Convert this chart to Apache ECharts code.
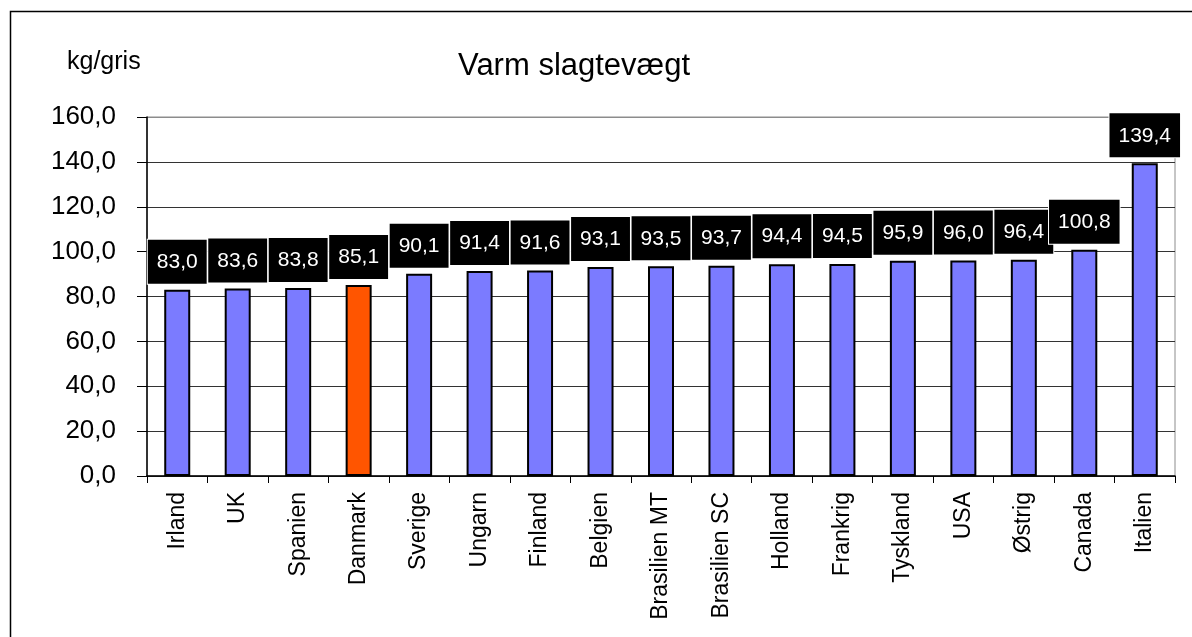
<!DOCTYPE html>
<html>
<head>
<meta charset="utf-8">
<script src="https://cdn.jsdelivr.net/npm/echarts@6/dist/echarts.min.js"></script>
<style>
  html, body { margin: 0; padding: 0; background: #fff; }
  #chart { width: 1192px; height: 637px; }
</style>
</head>
<body>
<div id="chart"></div>
<script>
const countries = ['Irland', 'UK', 'Spanien', 'Danmark', 'Sverige', 'Ungarn', 'Finland', 'Belgien',
  'Brasilien MT', 'Brasilien SC', 'Holland', 'Frankrig', 'Tyskland', 'USA', 'Østrig', 'Canada', 'Italien']
const weights = [83.0, 83.6, 83.8, 85.1, 90.1, 91.4, 91.6, 93.1, 93.5, 93.7, 94.4, 94.5, 95.9, 96.0, 96.4, 100.8, 139.4]
const highlight = 'Danmark'
const yTicks = { min: 0, max: 160, step: 20 }

const font = "'Liberation Sans', Arial, sans-serif"
const fmt = v => v.toFixed(1).replace('.', ',')

const chart = echarts.init(document.getElementById('chart'), null, { renderer: 'canvas' })

const option = {
  animation: false,
  backgroundColor: '#fff',
  title: [
    {
      text: 'Varm slagtevægt',
      left: 453,
      top: 46,
      textStyle: { fontFamily: font, fontSize: 31, fontWeight: 'normal', color: '#000' }
    },
    {
      text: 'kg/gris',
      left: 62,
      top: 45,
      textStyle: { fontFamily: font, fontSize: 25, fontWeight: 'normal', color: '#000' }
    }
  ],
  graphic: [
    {
      type: 'rect',
      shape: { x: 10.5, y: 11.5, width: 1400, height: 1000 },
      style: { fill: 'none', stroke: '#000', lineWidth: 1.5 },
      silent: true
    }
  ],
  grid: {
    left: 147,
    right: 17,
    top: 117,
    bottom: 161,
    show: true,
    borderColor: '#8c8c8c',
    borderWidth: 1
  },
  xAxis: {
    type: 'category',
    data: countries,
    axisLine: { lineStyle: { color: '#000', width: 1.5 } },
    axisTick: { show: true, length: 7, lineStyle: { color: '#000' } },
    axisLabel: {
      rotate: 90,
      margin: 16,
      interval: 0,
      fontFamily: font,
      fontSize: 23,
      color: '#000'
    }
  },
  yAxis: {
    type: 'value',
    min: yTicks.min,
    max: yTicks.max,
    interval: yTicks.step,
    axisLine: { show: true, lineStyle: { color: '#000', width: 1.5 } },
    axisTick: { show: true, length: 10, lineStyle: { color: '#000' } },
    axisLabel: {
      margin: 31,
      fontFamily: font,
      fontSize: 26,
      color: '#000',
      formatter: fmt
    },
    splitLine: {
      lineStyle: {
        color: ['#333', '#333', '#333', '#333', '#333', '#333', '#333', '#333', '#8c8c8c'],
        width: 1
      }
    }
  },
  series: [
    {
      type: 'bar',
      barWidth: 26,
      data: weights.map((v, i) => ({
        value: v,
        itemStyle: { color: countries[i] === highlight ? '#ff5500' : '#7b7bff' }
      })),
      itemStyle: { borderColor: '#000', borderWidth: 2 },
      label: {
        show: true,
        position: 'top',
        distance: 6,
        formatter: p => fmt(p.value),
        fontFamily: font,
        fontSize: 21,
        color: '#fff',
        backgroundColor: '#000',
        borderColor: '#fff',
        borderWidth: 1,
        padding: [12, 9, 11, 9]
      }
    }
  ]
}

chart.setOption(option)
window.addEventListener('resize', chart.resize)
</script>
</body>
</html>
